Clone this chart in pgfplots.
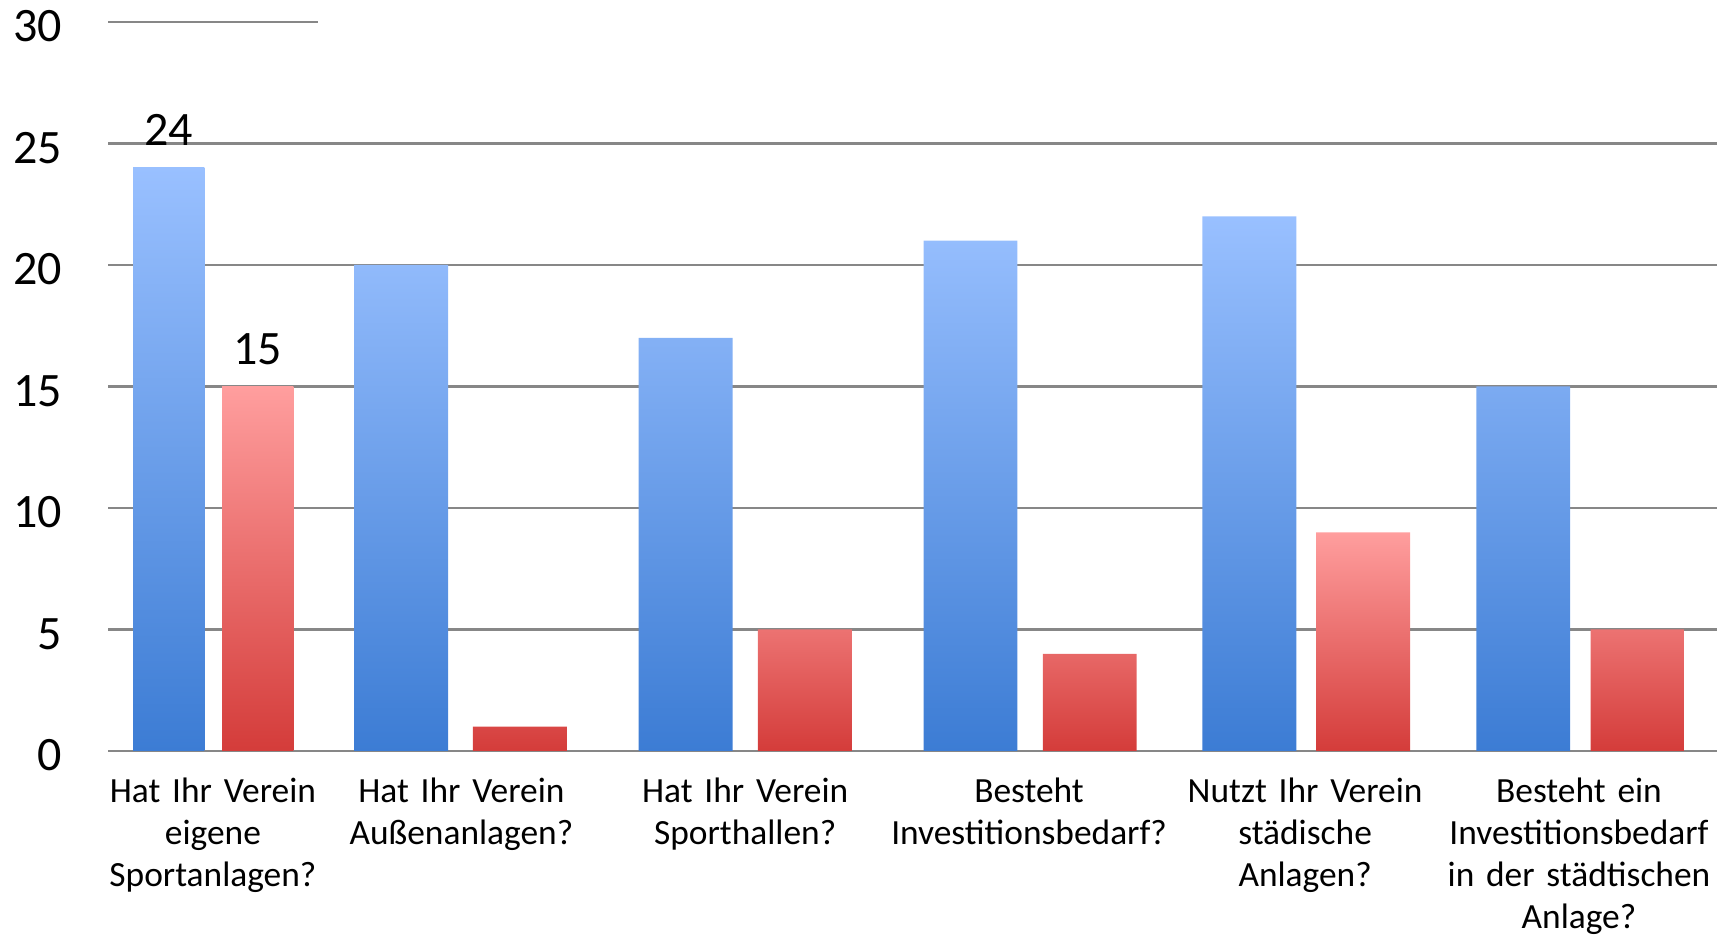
\documentclass[border=0pt]{standalone}
\usepackage{fontspec}
\setmainfont{Carlito}
\usepackage{pgfplots}
\pgfplotsset{compat=1.18}
\definecolor{bluetop}{RGB}{153,192,255}
\definecolor{bluebot}{RGB}{60,124,212}
\definecolor{redtop}{RGB}{255,158,158}
\definecolor{redbot}{RGB}{212,60,58}
\definecolor{gridc}{RGB}{135,135,135}
\begin{document}
\begin{tikzpicture}
\begin{axis}[
  scale only axis, width=402.25pt, height=182.25pt,
  xmin=0.98, xmax=15.55, ymin=0, ymax=30,
  axis x line*=bottom, axis y line*=left,
  x axis line style={gridc, line width=0.6pt, -},
  y axis line style={draw=none},
  major tick length=0pt,
  ytick={0,5,...,25}, extra y ticks={30}, extra y tick style={grid=none},
  ymajorgrids, grid style={gridc, line width=0.6pt},
  /pgf/number format/assume math mode=true,
  yticklabel style={font=\fontsize{12}{14}\selectfont, xshift=-8pt, yshift=-1.1pt},
  xtick={1.93,4.18,6.75,9.32,11.82,14.30},
  xticklabels={{Hat Ihr Verein\\eigene\\Sportanlagen?},
               {Hat Ihr Verein\\Außenanlagen?},
               {Hat Ihr Verein\\Sporthallen?},
               {Besteht\\Investitionsbedarf?},
               {Nutzt Ihr Verein\\städische\\Anlagen?},
               {Besteht ein\\Investitionsbedarf\\in der städtischen\\Anlage?}},
  xticklabel style={font=\fontsize{8.85}{10.5}\selectfont, align=center, text width=80pt, anchor=north, yshift=-3.3pt},
  clip=false,
]
% first group (narrower bars)
\addplot[ybar, bar width=0.645, bar shift=0pt, draw=none, top color=bluetop, bottom color=bluebot,
  nodes near coords, nodes near coords style={font=\fontsize{12}{14}\selectfont, text=black, yshift=2pt}]
  coordinates {(1.53,24)};
\addplot[ybar, bar width=0.645, bar shift=0pt, draw=none, top color=redtop, bottom color=redbot,
  nodes near coords, nodes near coords style={font=\fontsize{12}{14}\selectfont, text=black, yshift=2pt}]
  coordinates {(2.335,15)};
% remaining groups
\addplot[ybar, bar width=0.85, bar shift=0pt, draw=none, top color=bluetop, bottom color=bluebot]
  coordinates {(3.635,20) (6.21,17) (8.79,21) (11.315,22) (13.795,15)};
\addplot[ybar, bar width=0.85, bar shift=0pt, draw=none, top color=redtop, bottom color=redbot]
  coordinates {(4.71,1) (7.29,5) (9.87,4) (12.345,9) (14.83,5)};
\draw[gridc, line width=0.6pt] (axis cs:0.98,30) -- (axis cs:2.88,30);
\end{axis}
\pgfresetboundingbox
\useasboundingbox ([shift={(-27pt,-46.5pt)}]current axis.south west) rectangle ([shift={(3.5pt,5.5pt)}]current axis.north east);
\end{tikzpicture}
\end{document}
